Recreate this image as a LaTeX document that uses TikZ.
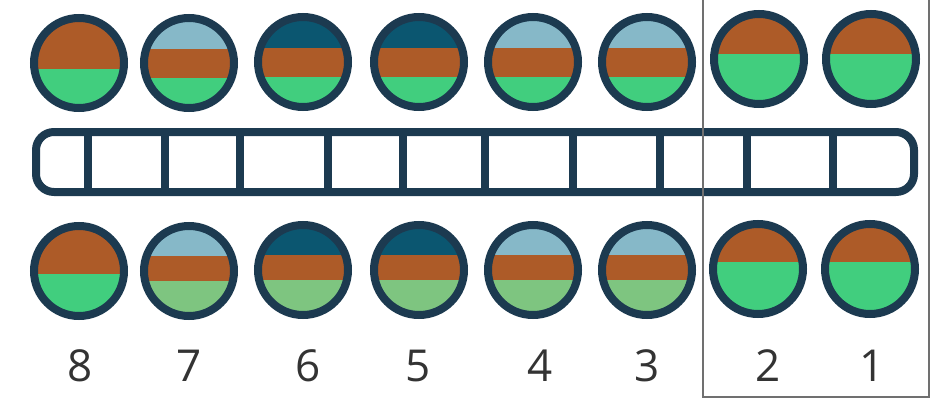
\documentclass[tikz,border=0pt]{standalone}
\usepackage{fontspec}
\setmainfont{Open Sans}
\definecolor{ringc}{HTML}{1C3A50}
\definecolor{brownc}{HTML}{AD5B28}
\definecolor{greenc}{HTML}{41CE7E}
\definecolor{lgreenc}{HTML}{7EC580}
\definecolor{lbluec}{HTML}{86B8C8}
\definecolor{tealc}{HTML}{0B5670}
\definecolor{boxc}{HTML}{707070}
\definecolor{numc}{HTML}{333333}
\tikzset{
  ringline/.style={draw=ringc, line width=8},
  graybox/.style={draw=boxc, line width=1.5},
  numlabel/.style={text=numc, font=\fontsize{44}{44}\selectfont, inner sep=0},
}
% x, y, top colour, split1, middle colour, split2, bottom colour
\newcommand\myball[7]{%
  \coordinate (b#1-#2) at (#1,#2);
  \begin{scope}
    \clip (b#1-#2) circle (45);
    \fill[#3] (#1-50,#2-50) rectangle (#1+50,#2+#4);
    \fill[#5] (#1-50,#2+#4) rectangle (#1+50,#2+#6);
    \fill[#7] (#1-50,#2+#6) rectangle (#1+50,#2+50);
  \end{scope}
  \draw[ringline] (b#1-#2) circle (45);
}
\begin{document}
\begin{tikzpicture}[x=1pt,y=-1pt]
\useasboundingbox (0,0) rectangle (934,399);
% top row
\myball{79}{63}{brownc}{6}{brownc}{6}{greenc}
\myball{189}{63}{lbluec}{-14}{brownc}{15}{greenc}
\myball{303}{62}{tealc}{-14}{brownc}{15}{greenc}
\myball{419}{62}{tealc}{-14}{brownc}{15}{greenc}
\myball{533}{62}{lbluec}{-14}{brownc}{15}{greenc}
\myball{647}{62}{lbluec}{-14}{brownc}{15}{greenc}
\myball{759}{59}{brownc}{-5}{brownc}{-5}{greenc}
\myball{871}{59}{brownc}{-5}{brownc}{-5}{greenc}
% bottom row
\myball{79}{271}{brownc}{3}{brownc}{3}{greenc}
\myball{189}{271}{lbluec}{-15}{brownc}{10}{lgreenc}
\myball{303}{270}{tealc}{-15}{brownc}{10}{lgreenc}
\myball{419}{270}{tealc}{-15}{brownc}{10}{lgreenc}
\myball{533}{270}{lbluec}{-15}{brownc}{10}{lgreenc}
\myball{647}{270}{lbluec}{-15}{brownc}{10}{lgreenc}
\myball{758}{269}{brownc}{-7}{brownc}{-7}{greenc}
\myball{870}{269}{brownc}{-7}{brownc}{-7}{greenc}
% bar
\draw[ringline, rounded corners=18] (36,132) rectangle (914,192);
\foreach \x in {88,165,240,328,403,485,573,660,747,833}
  \draw[ringline] (\x,132) -- (\x,192);
% gray box
\coordinate (g1) at (703,-2);
\coordinate (g2) at (703,397);
\coordinate (g3) at (929,397);
\coordinate (g4) at (929,-2);
\draw[graybox] (g1) -- (g2) -- (g3) -- (g4);
% labels
\node[numlabel] (l8) at (80,366) {8};
\node[numlabel] (l7) at (189,366) {7};
\node[numlabel] (l6) at (308,366) {6};
\node[numlabel] (l5) at (418,366) {5};
\node[numlabel] (l4) at (540,366) {4};
\node[numlabel] (l3) at (647,366) {3};
\node[numlabel] (l2) at (768,366) {2};
\node[numlabel] (l1) at (872,366) {1};
\end{tikzpicture}
\end{document}
